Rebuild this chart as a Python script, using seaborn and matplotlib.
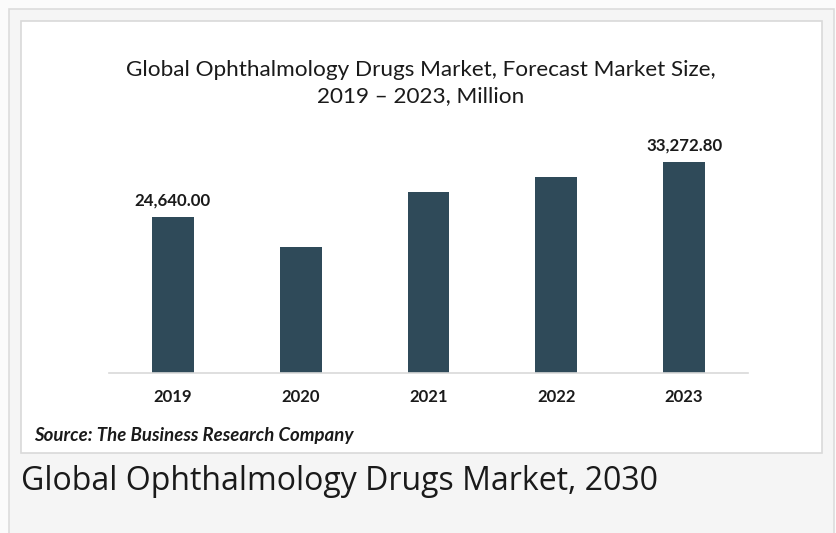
import matplotlib
matplotlib.use("Agg")
import matplotlib.pyplot as plt
from matplotlib.patches import Rectangle
import seaborn as sns
import pandas as pd

years = ["2019", "2020", "2021", "2022", "2023"]
values = [24640.00, 19800, 28530, 30850, 33272.80]
labels = ["24,640.00", "", "", "", "33,272.80"]

title = "Global Ophthalmology Drugs Market, Forecast Market Size,\n2019 \u2013 2023, Million"
source = "Source: The Business Research Company"
caption = "Global Ophthalmology Drugs Market, 2030"

W, H = 836, 533
sns.set_theme(style="white")
plt.rcParams["font.family"] = ["Lato", "DejaVu Sans"]

fig = plt.figure(figsize=(W / 100, H / 100), dpi=100)
fig.patch.set_facecolor("#fbfbfb")

def px_rect(x0, y0, x1, y1, **kw):
    fig.patches.append(Rectangle((x0 / W, 1 - y1 / H), (x1 - x0) / W, (y1 - y0) / H,
                                 transform=fig.transFigure, zorder=-5, **kw))

# outer grey panel
px_rect(8.5, 8.5, 834, 540, facecolor="#f5f5f5", edgecolor="#dcdcdc", linewidth=1.2)
# white chart box
px_rect(21, 21, 821.5, 452.5, facecolor="white", edgecolor="#d9d9d9", linewidth=1.2)

# axes placement in pixels
ax_left, ax_right = 109, 748
base_y, top_y = 372.7, 150
ax = fig.add_axes([ax_left / W, 1 - base_y / H, (ax_right - ax_left) / W, (base_y - top_y) / H])
ax.set_facecolor("none")
ax.set_zorder(2)

df = pd.DataFrame({"year": years, "value": values})
sns.barplot(data=df, x="year", y="value", color="#2f4a59", width=0.326,
            saturation=1, ax=ax, edgecolor="none")

ax.set_xlim(-0.5, 4.5)
ymax = values[-1] * (base_y - top_y) / (base_y - 162)
ax.set_ylim(0, ymax)
ax.set_xlabel("")
ax.set_ylabel("")
ax.set_yticks([])
for s in ["top", "left", "right"]:
    ax.spines[s].set_visible(False)
ax.spines["bottom"].set_color("#d9d9d9")
ax.spines["bottom"].set_linewidth(1.2)
ax.tick_params(axis="x", length=0, pad=11.5, labelsize=12, labelcolor="#1a1a1a")
for t in ax.get_xticklabels():
    t.set_fontweight("bold")

for i, (v, lab) in enumerate(zip(values, labels)):
    if lab:
        ax.annotate(lab, (i, v), xytext=(0, 6), textcoords="offset points",
                    ha="center", va="bottom", fontsize=12.2, fontweight="bold", color="#1a1a1a")

fig.text(421 / W, 1 - 83 / H, title, ha="center", va="center", fontsize=16.2,
         color="#1a1a1a", linespacing=1.35)
fig.text(34 / W, 1 - 435 / H, source, ha="left", va="center", fontsize=13.4,
         fontweight="bold", fontstyle="italic", color="#1a1a1a")
fig.text(21 / W, 1 - 481 / H, caption, ha="left", va="center", fontsize=23,
         color="#1a1a1a", family=["Open Sans", "DejaVu Sans"])

fig.savefig("out.png", dpi=100, facecolor=fig.get_facecolor())
